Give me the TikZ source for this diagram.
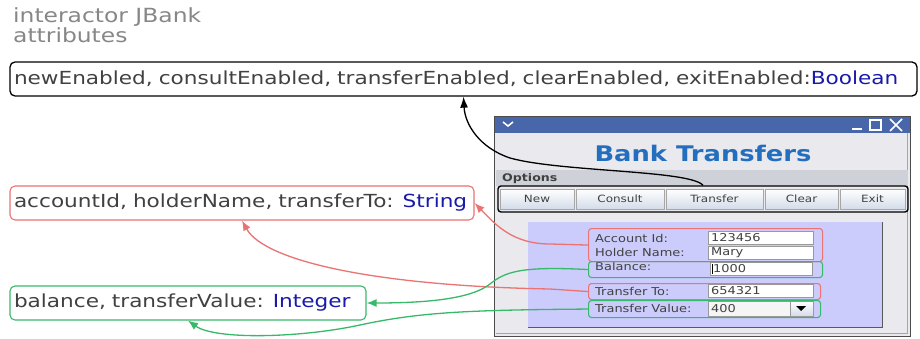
\documentclass[tikz,border=0pt]{standalone}
\usepackage{fontspec}
\setmainfont{DejaVu Sans}[FakeStretch=1.2]
\usetikzlibrary{arrows.meta}
\definecolor{lbl}{RGB}{65,65,65}
\definecolor{typ}{RGB}{25,25,170}
\definecolor{redc}{RGB}{235,115,115}
\definecolor{grnc}{RGB}{55,185,105}
\definecolor{titlebar}{RGB}{72,102,170}
\definecolor{winbg}{RGB}{234,234,238}
\definecolor{optbg}{RGB}{206,210,216}
\definecolor{panel}{RGB}{204,204,252}
\definecolor{heading}{RGB}{35,110,190}
\definecolor{graytxt}{RGB}{135,135,135}
\definecolor{btnbot}{RGB}{212,220,234}
\tikzset{
  attr/.style={draw, rounded corners=5pt, inner xsep=4pt, inner ysep=0pt,
    font=\fontsize{18}{20}\selectfont, text=lbl, align=left},
  hl/.style={draw, rounded corners=3pt, line width=1.1pt, inner sep=0pt, anchor=north west},
  btn/.style={draw=gray!70, top color=white, bottom color=btnbot, inner sep=0pt,
    minimum height=20pt, font=\fontsize{10}{12}\selectfont, text=lbl},
  fld/.style={draw=gray!80, fill=white, inner xsep=3pt, inner ysep=0pt, minimum height=13pt,
    text width=99pt, align=left, font=\fontsize{10.8}{12}\selectfont, text=lbl, anchor=north west},
  flbl/.style={font=\fontsize{10.8}{12}\selectfont, text=lbl, anchor=west, inner sep=0pt},
  redarr/.style={draw=redc, line width=1.3pt, -{Latex[length=10pt,width=8pt]}},
  grnarr/.style={draw=grnc, line width=1.3pt, -{Latex[length=10pt,width=8pt]}},
  blkarr/.style={draw=black, line width=1.3pt, -{Latex[length=11pt,width=8pt]}}
}
\begin{document}
\begin{tikzpicture}[x=1pt,y=-1pt]
\useasboundingbox[fill=white] (0,0) rectangle (920,339);
% heading text
\node[anchor=north west, inner sep=0pt, align=left, text=graytxt,
  font=\fontsize{19.5}{20}\selectfont] (hdr) at (13,7) {interactor JBank\\attributes};
% window
\fill[winbg] (494,116) rectangle (910,336);
\fill[titlebar] (494,116) rectangle (910,133);
\draw[white, line width=1.5pt] (503,122) -- (508,126) -- (513,122);
\draw[white, line width=1.2pt] (852,129) -- (862,129);
\draw[white, line width=1.2pt] (870,120) rectangle (881,130);
\draw[white, line width=1.5pt] (890,119) -- (902,131) (890,131) -- (902,119);
\draw[gray!60!black, line width=0.8pt] (494,116) rectangle (910,336);
\draw[gray!70, line width=1pt] (907,133) -- (907,333) -- (496,333);
\node[font=\bfseries\fontsize{21.5}{24}\selectfont, text=heading] (title) at (703,153) {Bank Transfers};
\fill[optbg] (496,170) rectangle (908,186);
\node[anchor=west, inner sep=0pt, font=\bfseries\fontsize{10.5}{12}\selectfont, text=black!75] (opt) at (502,179) {Options};
% buttons
\node[btn, minimum width=74pt] (bnew) at (537,199) {New};
\node[btn, minimum width=88pt] (bcon) at (620,199) {Consult};
\node[btn, minimum width=97pt] (btra) at (714.5,199) {Transfer};
\node[btn, minimum width=73pt] (bclr) at (801.5,199) {Clear};
\node[btn, minimum width=65pt] (bext) at (872.5,199) {Exit};
\node[hl, draw=black, line width=1.4pt, anchor=center, minimum width=410pt, minimum height=26pt] (btns) at (703,199) {};
% panel
\fill[panel] (528,222) rectangle (882,327);
\draw[gray!70!black, line width=0.8pt] (882,222) -- (882,327) -- (528,327);
% fields
\node[flbl] (lacc) at (595,238) {Account Id:};
\node[fld] (facc) at (708,231) {123456};
\node[flbl] (lhol) at (595,252) {Holder Name:};
\node[fld] (fhol) at (708,246) {Mary};
\node[flbl] (lbal) at (595,266) {Balance:};
\node[fld, text width=96pt] (fbal) at (710,262) {1000};
\draw[black] (712,264) -- (712,274);
\node[flbl] (ltto) at (595,291) {Transfer To:};
\node[fld] (ftto) at (708,284) {654321};
\node[flbl] (ltv) at (595,308) {Transfer Value:};
\node[fld, minimum height=15pt, fill=gray!8] (ftv) at (708,301) {400};
\node[draw=gray!80, top color=white, bottom color=btnbot, inner sep=0pt, minimum width=23pt, minimum height=15pt, anchor=north west] (cbtn) at (790,301) {};
\fill[black] (796,306) -- (806,306) -- (801,311) -- cycle;
% highlight boxes
\node[hl, draw=redc, minimum width=234pt, minimum height=33pt] (acc) at (588,228) {};
\node[hl, draw=grnc, minimum width=234pt, minimum height=16pt] (bal) at (588,261) {};
\node[hl, draw=redc, minimum width=232pt, minimum height=16pt] (tto) at (588,283) {};
\node[hl, draw=grnc, minimum width=232pt, minimum height=17pt] (tval) at (588,300) {};
% attribute boxes
\node[attr, line width=1.3pt, minimum width=907pt, minimum height=34pt, text width=899pt] (boolbox) at (463.5,79)
  {newEnabled, consultEnabled, transferEnabled, clearEnabled, exitEnabled:\textcolor{typ}{Boolean}};
\node[attr, draw=redc, line width=1.1pt, minimum width=464pt, minimum height=34pt, text width=456pt] (strbox) at (242,203)
  {accountId, holderName, transferTo: \textcolor{typ}{String}};
\node[attr, draw=grnc, line width=1.1pt, minimum width=356pt, minimum height=34pt, text width=348pt] (intbox) at (188,303)
  {balance, transferValue: \textcolor{typ}{Integer}};
% connectors
\draw[blkarr] (btns.north) .. controls (690,170) and (560,172) .. (510,158)
  .. controls (480,148) and (465,125) .. (boolbox.south);
\draw[redarr] (acc.west) -- (550,244) .. controls (512,244) and (495,224) .. (strbox.east);
\draw[redarr] (tto.west) -- (550,289) .. controls (380,286) and (265,262) .. (strbox.south);
\draw[grnarr] (bal.west) .. controls (520,266) and (505,272) .. (490,284)
  .. controls (470,300) and (420,303) .. (intbox.east);
\draw[grnarr] (tval.west) .. controls (470,310) and (420,312) .. (360,325)
  .. controls (300,338) and (215,340) .. (intbox.south);
\end{tikzpicture}
\end{document}
